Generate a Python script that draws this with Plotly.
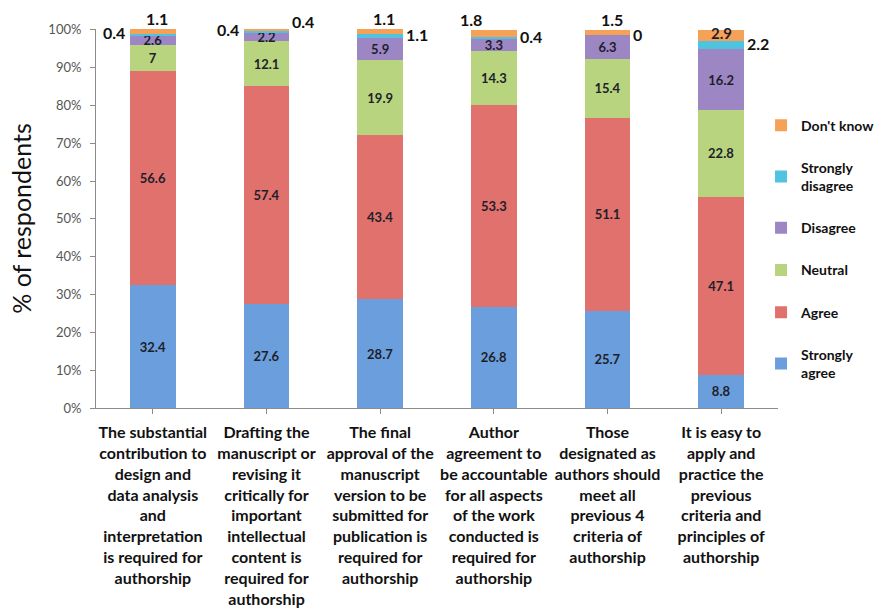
import plotly.graph_objects as go

# Survey statements (x categories)
categories = [
    "The substantial<br>contribution to<br>design and<br>data analysis<br>and<br>interpretation<br>is required for<br>authorship",
    "Drafting the<br>manuscript or<br>revising it<br>critically for<br>important<br>intellectual<br>content is<br>required for<br>authorship",
    "The final<br>approval of the<br>manuscript<br>version to be<br>submitted for<br>publication is<br>required for<br>authorship",
    "Author<br>agreement to<br>be accountable<br>for all aspects<br>of the work<br>conducted is<br>required for<br>authorship",
    "Those<br>designated as<br>authors should<br>meet all<br>previous 4<br>criteria of<br>authorship",
    "It is easy to<br>apply and<br>practice the<br>previous<br>criteria and<br>principles of<br>authorship",
]

# Response shares (% of respondents), stacked bottom to top
strongly_agree = [32.4, 27.6, 28.7, 26.8, 25.7, 8.8]
agree = [56.6, 57.4, 43.4, 53.3, 51.1, 47.1]
neutral = [7, 12.1, 19.9, 14.3, 15.4, 22.8]
disagree = [2.6, 2.2, 5.9, 3.3, 6.3, 16.2]
strongly_disagree = [0.4, 0.4, 1.1, 0.4, 0, 2.2]
dont_know = [1.1, 0.4, 1.1, 1.8, 1.5, 2.9]

# y-axis ticks
y_ticks = list(range(0, 101, 10))
y_tick_labels = [f"{t}%" for t in y_ticks]

series_names = ["Strongly<br>agree", "Agree", "Neutral", "Disagree", "Strongly<br>disagree", "Don't know"]
series_values = [strongly_agree, agree, neutral, disagree, strongly_disagree, dont_know]
series_colors = ["#6b9edc", "#e0716d", "#b8d47e", "#9c86c4", "#4fc3df", "#f5a258"]

# Where each thin segment's value is written: inside / left / right / top / topleft
sd_spot = ["left", "left", "right", "right", "right", "right"]
dk_spot = ["top", "right", "top", "topleft", "top", "inside"]

label_font = dict(family="Lato", size=13, color="#1e1e2a", weight="bold")
outer_font = dict(family="Lato", size=16, color="#111111", weight="bold")

fig = go.Figure()
x_idx = list(range(len(categories)))
n_series = len(series_names)

for s, (name, vals, col) in enumerate(zip(series_names, series_values, series_colors)):
    # the two thinnest series get their values written as annotations below
    texts = [f"{v:g}" if s < 4 else "" for v in vals]
    fig.add_trace(go.Bar(
        x=x_idx, y=vals, name=name,
        marker=dict(color=col, line=dict(width=0)),
        text=texts, textposition="inside", insidetextanchor="middle",
        constraintext="none", textangle=0,
        textfont=label_font, cliponaxis=False,
        legendgroup=str(s), legendrank=n_series - s,
        hovertemplate="%{y}<extra></extra>",
    ))

# Values of thin segments written beside / above the bars
half = 0.2
for i in x_idx:
    base_sd = strongly_agree[i] + agree[i] + neutral[i] + disagree[i]
    sd_mid = base_sd + strongly_disagree[i] / 2
    top = base_sd + strongly_disagree[i] + dont_know[i]
    sd_txt = f"{strongly_disagree[i]:g}"
    dk_txt = f"{dont_know[i]:g}"
    if sd_spot[i] == "left":
        fig.add_annotation(x=i - half, y=sd_mid, text=sd_txt, xanchor="right",
                           yanchor="middle", xshift=-3, yshift=2, showarrow=False, font=outer_font)
    else:
        fig.add_annotation(x=i + half, y=sd_mid, text=sd_txt, xanchor="left",
                           yanchor="middle", xshift=1, yshift=1, showarrow=False, font=outer_font)
    spot = dk_spot[i]
    if spot == "top":
        fig.add_annotation(x=i, y=top, text=dk_txt, xanchor="center", yanchor="bottom",
                           xshift=4, yshift=-1, showarrow=False, font=outer_font)
    elif spot == "topleft":
        fig.add_annotation(x=i - half, y=top, text=dk_txt, xanchor="center", yanchor="bottom",
                           yshift=-1, showarrow=False, font=outer_font)
    elif spot == "right":
        fig.add_annotation(x=i + half, y=top, text=dk_txt, xanchor="left", yanchor="middle",
                           xshift=1, yshift=8, showarrow=False, font=outer_font)
    else:
        fig.add_annotation(x=i, y=top - dont_know[i] / 2, text=dk_txt, xanchor="center",
                           yanchor="middle", yshift=2, showarrow=False,
                           font=dict(family="Lato", size=15, color="#1e1e2a", weight="bold"))

fig.update_layout(
    barmode="stack",
    bargap=0.6,
    width=887, height=609,
    margin=dict(l=96, r=109, t=29, b=201, autoexpand=False),
    paper_bgcolor="white", plot_bgcolor="white",
    font=dict(family="Lato", color="#111111"),
    showlegend=True,
    legend=dict(
        xref="container", yref="container",
        x=0.858, y=0.82, xanchor="left", yanchor="top",
        traceorder="grouped", tracegroupgap=21,
        font=dict(family="Lato", size=14, color="#111111", weight="bold"),
        itemwidth=30, bgcolor="rgba(0,0,0,0)",
    ),
    xaxis=dict(
        tickmode="array", tickvals=x_idx, ticktext=categories,
        range=[-0.5, len(categories) - 0.5],
        tickson="boundaries", ticks="outside", ticklen=5, tickcolor="#8c8c8c",
        showline=True, linecolor="#8c8c8c", linewidth=1,
        showgrid=False, zeroline=False,
        tickfont=dict(family="Lato", size=16, color="#111111", weight="bold"),
        tickangle=0, ticklabelstandoff=5,
    ),
    yaxis=dict(
        range=[0, 100.2], tickmode="array", tickvals=y_ticks, ticktext=y_tick_labels,
        ticks="outside", ticklen=5, tickcolor="#8c8c8c",
        showline=True, linecolor="#8c8c8c", linewidth=1,
        showgrid=False, zeroline=False,
        tickfont=dict(family="Lato", size=13, color="#555555"),
        ticklabelstandoff=6,
        title=dict(text="% of respondents", font=dict(family="Lato", size=25, color="#111111"), standoff=9),
    ),
)

fig.write_html("out.html")
